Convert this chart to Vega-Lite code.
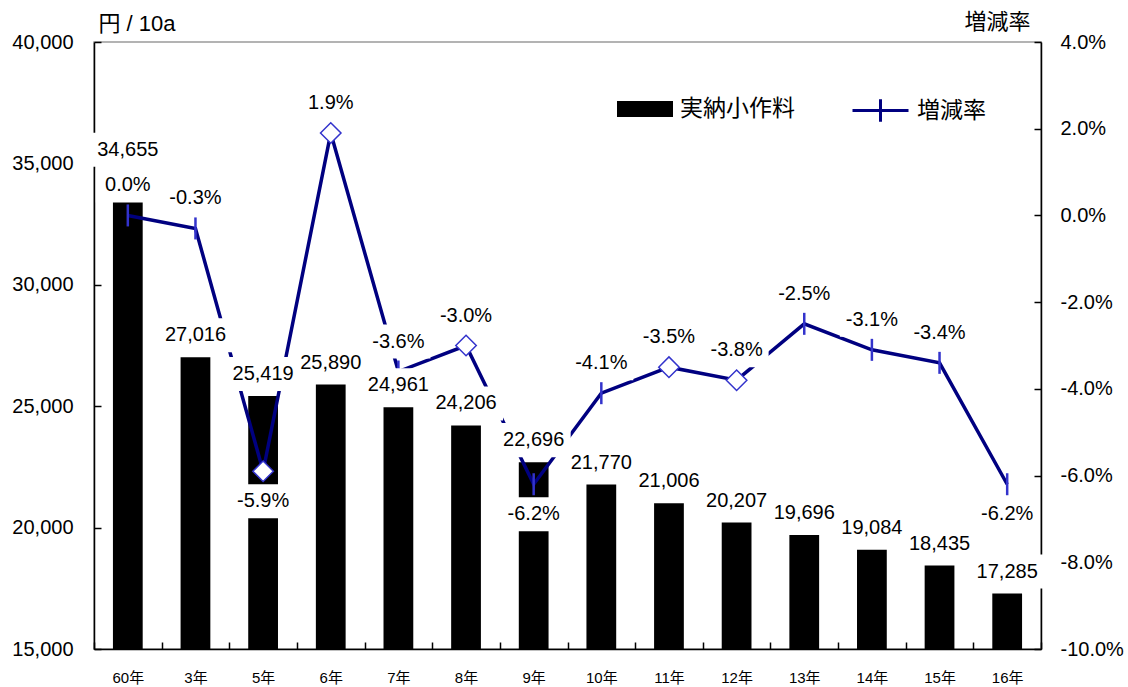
{
  "$schema": "https://vega.github.io/schema/vega-lite/v6.json",
  "width": 947,
  "height": 607,
  "autosize": {"type": "none"},
  "padding": {"left": 94, "top": 42, "right": 87, "bottom": 38},
  "background": "white",
  "config": {
    "view": {"stroke": "#9a9a9a", "strokeWidth": 1.5},
    "font": "Liberation Sans",
    "axis": {
      "domainColor": "black", "domainWidth": 1.5,
      "tickColor": "black", "tickWidth": 1.5,
      "grid": false, "labelColor": "black",
      "labelFont": "Liberation Sans, Noto Sans CJK JP",
      "titleFont": "Liberation Sans, Noto Sans CJK JP",
      "titleFontWeight": "normal", "titleColor": "black"
    },
    "legend": {"labelColor": "black", "labelFont": "Noto Sans CJK JP", "labelFontSize": 23}
  },
  "data": {
    "values": [
      {"year": "60年", "value": 34655, "rate": 0.0},
      {"year": "3年", "value": 27016, "rate": -0.3},
      {"year": "5年", "value": 25419, "rate": -5.9},
      {"year": "6年", "value": 25890, "rate": 1.9},
      {"year": "7年", "value": 24961, "rate": -3.6},
      {"year": "8年", "value": 24206, "rate": -3.0},
      {"year": "9年", "value": 22696, "rate": -6.2},
      {"year": "10年", "value": 21770, "rate": -4.1},
      {"year": "11年", "value": 21006, "rate": -3.5},
      {"year": "12年", "value": 20207, "rate": -3.8},
      {"year": "13年", "value": 19696, "rate": -2.5},
      {"year": "14年", "value": 19084, "rate": -3.1},
      {"year": "15年", "value": 18435, "rate": -3.4},
      {"year": "16年", "value": 17285, "rate": -6.2}
    ]
  },
  "encoding": {
    "x": {
      "field": "year", "type": "nominal", "sort": null,
      "scale": {"paddingInner": 0, "paddingOuter": 0},
      "axis": {
        "title": null, "labelAngle": 0, "labelFontSize": 15,
        "tickBand": "extent", "tickSize": -7, "labelPadding": 28
      }
    }
  },
  "layer": [
    {
      "encoding": {
        "y": {
          "field": "value", "type": "quantitative",
          "scale": {"domain": [15000, 40000], "nice": false, "zero": false},
          "axis": {
            "values": [15000, 20000, 25000, 30000, 35000, 40000],
            "format": ",d", "labelFontSize": 20, "tickSize": -7, "labelPadding": 28,
            "title": "円 / 10a", "titleAngle": 0, "titleAlign": "left",
            "titleBaseline": "alphabetic", "titleX": 4, "titleY": -12, "titleFontSize": 22
          }
        }
      },
      "layer": [
        {
          "mark": {"type": "bar", "width": {"band": 0.44}},
          "encoding": {
            "y2": {"datum": 15000},
            "fill": {
              "datum": "実納小作料",
              "scale": {"range": ["black"]},
              "legend": {
                "title": null, "orient": "none", "legendX": 523, "legendY": 39,
                "symbolType": "M-1,-0.29H1V0.29H-1Z", "symbolSize": 3136,
                "symbolStrokeWidth": 0, "labelOffset": 7
              }
            }
          }
        }
      ]
    },
    {
      "encoding": {
        "y": {
          "field": "rate", "type": "quantitative",
          "scale": {"domain": [-10, 4], "nice": false, "zero": false},
          "axis": {
            "orient": "right",
            "values": [-10, -8, -6, -4, -2, 0, 2, 4],
            "labelExpr": "replace(format(datum.value, '.1f'), '\u2212', '-') + '%'",
            "labelFontSize": 20, "tickSize": -7, "labelPadding": 26,
            "title": "増減率", "titleAngle": 0, "titleAlign": "left",
            "titleBaseline": "alphabetic", "titleX": -77, "titleY": -14, "titleFontSize": 22
          }
        }
      },
      "layer": [
        {
          "mark": {"type": "line", "strokeWidth": 3.5},
          "encoding": {
            "stroke": {
              "datum": "増減率",
              "scale": {"range": ["#000080"]},
              "legend": {
                "title": null, "orient": "none", "legendX": 757, "legendY": 39,
                "symbolType": "M-1,0H1M0,-0.4V0.4", "symbolSize": 3136,
                "symbolStrokeWidth": 3, "labelOffset": 7
              }
            }
          }
        },
        {
          "transform": [{"filter": {"field": "year", "oneOf": ["5年", "6年", "8年", "11年", "12年"]}}],
          "mark": {"type": "point", "shape": "diamond", "size": 420, "filled": true, "color": "white", "fill": "white", "stroke": "#3333cc", "strokeWidth": 1.5, "opacity": 1}
        },
        {
          "transform": [{"filter": {"not": {"field": "year", "oneOf": ["5年", "6年", "8年", "11年", "12年"]}}}],
          "mark": {"type": "point", "shape": "M0,-1V1", "size": 484, "filled": false, "color": "#3333cc", "stroke": "#3333cc", "strokeWidth": 2.5, "opacity": 1}
        },
        {
          "mark": {"type": "point", "shape": "M-1,-0.53H1V0.53H-1Z", "size": 4096, "filled": true, "color": "white", "fill": "white", "fillOpacity": 1, "opacity": 1, "strokeWidth": 0,
            "yOffset": {"expr": "datum.rate < -5 ? 30 : -30"}}
        },
        {
          "transform": [{"calculate": "replace(format(datum.rate, '.1f'), '\u2212', '-') + '%'", "as": "rateLabel"}],
          "mark": {"type": "text", "fontSize": 20, "font": "Liberation Sans", "color": "black", "baseline": "middle",
            "yOffset": {"expr": "datum.rate < -5 ? 30 : -30"}},
          "encoding": {"text": {"field": "rateLabel"}}
        }
      ]
    },
    {
      "encoding": {
        "y": {
          "field": "value", "type": "quantitative",
          "scale": {"domain": [15000, 40000], "nice": false, "zero": false},
          "axis": null
        }
      },
      "layer": [
        {
          "mark": {"type": "point", "shape": "M-1,-0.46H1V0.46H-1Z", "size": 5476, "filled": true, "color": "white", "fill": "white", "fillOpacity": 1, "opacity": 1, "strokeWidth": 0, "yOffset": -22}
        },
        {
          "mark": {"type": "text", "fontSize": 20, "font": "Liberation Sans", "color": "black", "baseline": "middle", "yOffset": -22},
          "encoding": {"text": {"field": "value", "type": "quantitative", "format": ",d"}}
        }
      ]
    }
  ],
  "resolve": {"scale": {"y": "independent"}}
}
